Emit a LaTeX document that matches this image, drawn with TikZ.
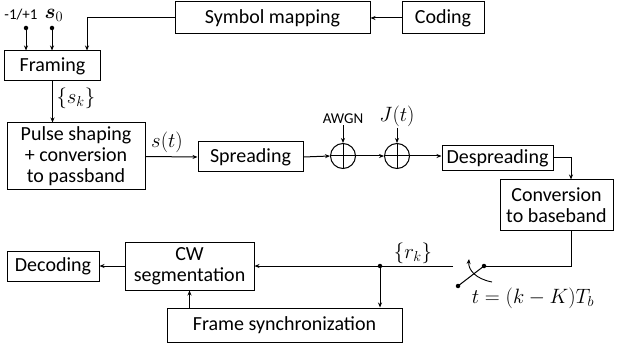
\documentclass[tikz,border=0pt]{standalone}
\usepackage{fontspec}
\usepackage{bm}
\setmainfont{Carlito}
\usetikzlibrary{arrows.meta,positioning}

\begin{document}
\begin{tikzpicture}[x=1pt,y=-1pt,line width=1pt,
    block/.style={draw,align=center,inner sep=0pt,font=\fontsize{20}{21}\selectfont},
    sig/.style={-{Stealth[length=5pt,width=4pt]}},
    dot/.style={circle,fill,inner sep=0pt,minimum size=4.5pt},
    adder/.style={draw,circle,inner sep=0pt,minimum size=25pt},
    lbl/.style={inner sep=1pt,font=\fontsize{22}{23}\selectfont},
    small/.style={inner sep=1pt,font=\fontsize{15}{16}\selectfont}]
    \useasboundingbox (0,0) rectangle (617,347);

    % Transmitter
    \node [block,minimum width=195,minimum height=32] (symmap) at (272.5,18) {Symbol mapping};
    \node [block,minimum width=82,minimum height=32] (coding) at (443,18) {Coding};
    \node [block,minimum width=96,minimum height=30] (framing) at (52.5,66) {Framing};
    \node [block,minimum width=138,minimum height=67] (pulse) at (76,156.5) {Pulse shaping\\+ conversion\\to passband};
    \node [block,minimum width=105,minimum height=30] (spread) at (250.5,157) {Spreading};

    % Channel
    \node [adder] (sum1) at (343,156) {};
    \node [adder] (sum2) at (397,156) {};
    \draw (sum1.north) -- (sum1.south) (sum1.west) -- (sum1.east);
    \draw (sum2.north) -- (sum2.south) (sum2.west) -- (sum2.east);
    \node [small] (awgn) at (343,119) {AWGN};
    \node [lbl] (jam) at (397,116) {$J(t)$};

    % Receiver
    \node [block,minimum width=111,minimum height=25] (despread) at (497.5,158) {Despreading};
    \node [block,minimum width=113,minimum height=50] (convert) at (556.5,205) {Conversion\\to baseband};
    \node [block,minimum width=129,minimum height=48] (cwseg) at (189.5,266) {CW\\segmentation};
    \node [block,minimum width=92,minimum height=30] (decoding) at (53,266) {Decoding};
    \node [block,minimum width=235,minimum height=34] (framesync) at (284.5,325) {Frame synchronization};

    % Inputs of the framing block
    \coordinate (in1) at (26,28);
    \coordinate (in2) at (52,28);
    \node [small] (pm) at (21,15) {-1/+1};
    \node [lbl] (s0) at (54,15) {$\bm{s}_0$};
    \node [dot] at (in1) {};
    \node [dot] at (in2) {};
    \draw [sig] (in1) -- (in1 |- framing.north);
    \draw [sig] (in2) -- (in2 |- framing.north);
    \draw [sig] (coding) -- (symmap);
    \draw [sig] (symmap.west) -| ([xshift=34.5pt]framing.north);

    % Forward chain
    \draw [sig] (framing.south) -- (pulse.north -| framing.south);
    \node [lbl,anchor=west] (sk) at (55,98) {$\{s_k\}$};
    \draw [sig] (pulse.east) -- (spread.west);
    \node [lbl] (st) at (167,142) {$s(t)$};
    \draw [sig] (spread.east) -- (sum1.west);
    \draw [sig] (sum1.east) -- (sum2.west);
    \draw [sig] (sum2.east) -- (sum2.east -| despread.west);
    \draw [sig] (awgn.south) -- (sum1.north);
    \draw [sig] (jam.south) -- (sum2.north);
    \draw [sig] (despread.east) -| ([xshift=14.5pt]convert.north);

    % Sampling switch
    \coordinate (swR) at (484,266);
    \coordinate (swL) at (458,286);
    \coordinate (swout) at (453,266);
    \coordinate (branch) at (380,266);
    \draw ([xshift=14.5pt]convert.south) |- (swR);
    \draw (swR) -- (swL);
    \node [dot] at (swR) {};
    \node [dot] at (swL) {};
    \draw [sig,line width=0.9pt] (492,282) .. controls (476,279) and (468,270) .. (469,259);
    \node [lbl] (samp) at (533,298) {$t=(k-K)T_b$};

    % Back end
    \draw [sig] (swout) -- (cwseg.east);
    \node [lbl] (rk) at (413,253) {$\{r_k\}$};
    \node [dot] at (branch) {};
    \draw [sig] (branch) -- (branch |- framesync.north);
    \draw [sig] (framesync.north -| cwseg.south) -- (cwseg.south);
    \draw [sig] (cwseg.west) -- (decoding.east);
\end{tikzpicture}
\end{document}
